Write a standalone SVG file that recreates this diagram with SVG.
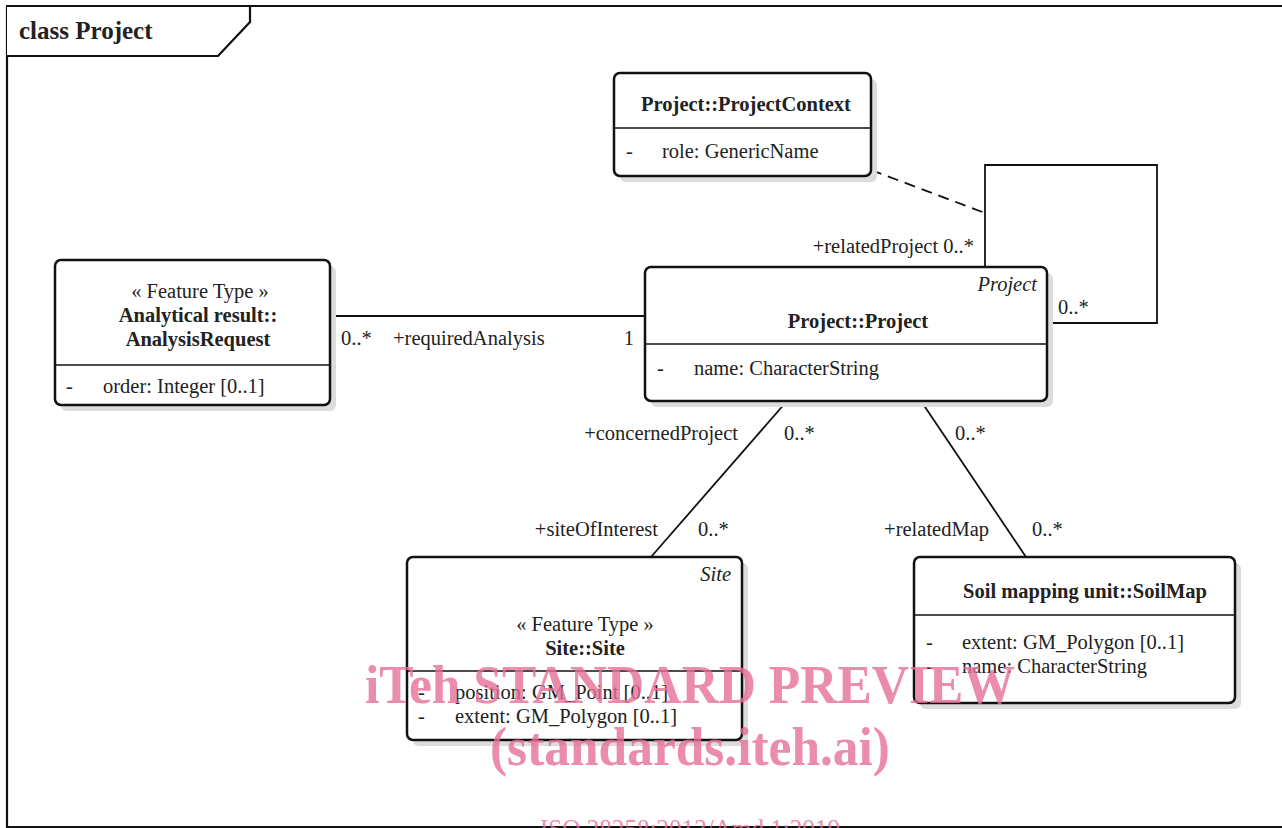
<svg xmlns="http://www.w3.org/2000/svg" width="1282" height="828" viewBox="0 0 1282 828">
<style>
text{font-family:"Liberation Serif","Times New Roman",serif;font-size:20.5px;fill:#222}
.b{font-weight:bold}
.i{font-style:italic}
.m{text-anchor:middle}
.e{text-anchor:end}
.box{fill:#fff;stroke:#111;stroke-width:2.5}
.sh{fill:#dcdcdc}
.div{stroke:#111;stroke-width:1.5}
.ln{fill:none;stroke:#111;stroke-width:1.8}
.wm{font-family:"Liberation Serif","Times New Roman",serif;font-weight:bold;fill:#e66f95;fill-opacity:0.8}
</style>
<rect width="1282" height="828" fill="#fff"/>
<g id="frame">
<path d="M1290,6 H7 V827 H1290" fill="none" stroke="#111" stroke-width="2.2"/>
<path d="M7,6 H250 V22 L218,56 H7" fill="#fff" stroke="#111" stroke-width="2.2"/>
<text x="19" y="39" class="b" style="font-size:25px">class Project</text>
</g>
<g id="connectors">
<line class="ln" x1="330" y1="316" x2="645" y2="316"/>
<text x="341" y="345">0..*</text>
<text x="393" y="345">+requiredAnalysis</text>
<text x="634" y="345" class="e">1</text>
<polyline class="ln" points="985,267 985,165 1157,165 1157,323 1047,323"/>
<text x="974" y="253" class="e">+relatedProject 0..*</text>
<text x="1058" y="314">0..*</text>
<line class="ln" x1="871" y1="170" x2="985" y2="213" stroke-dasharray="11,7"/>
<line class="ln" x1="787" y1="401" x2="651" y2="557"/>
<text x="738" y="440" class="e">+concernedProject</text>
<text x="784" y="440">0..*</text>
<text x="658" y="536" class="e">+siteOfInterest</text>
<text x="698" y="536">0..*</text>
<line class="ln" x1="921" y1="401" x2="1026" y2="557"/>
<text x="955" y="440">0..*</text>
<text x="989" y="536" class="e">+relatedMap</text>
<text x="1032" y="536">0..*</text>
</g>
<g id="ProjectContext">
<rect class="sh" x="620" y="79" width="257" height="103" rx="6"/>
<rect class="box" x="614" y="73" width="257" height="103" rx="6"/>
<text x="746" y="111" class="b m">Project::ProjectContext</text>
<line class="div" x1="614" y1="128" x2="871" y2="128"/>
<text x="626" y="158">-</text>
<text x="662" y="158">role: GenericName</text>
</g>
<g id="AnalysisRequest">
<rect class="sh" x="61" y="266" width="275" height="145" rx="6"/>
<rect class="box" x="55" y="260" width="275" height="145" rx="6"/>
<text x="200" y="298" class="m">« Feature Type »</text>
<text x="198" y="322" class="b m">Analytical result::</text>
<text x="198" y="346" class="b m">AnalysisRequest</text>
<line class="div" x1="55" y1="365" x2="330" y2="365"/>
<text x="66" y="393">-</text>
<text x="103" y="393">order: Integer [0..1]</text>
</g>
<g id="Project">
<rect class="sh" x="651" y="273" width="402" height="134" rx="6"/>
<rect class="box" x="645" y="267" width="402" height="134" rx="6"/>
<text x="1037" y="291" class="i e">Project</text>
<text x="858" y="328" class="b m">Project::Project</text>
<line class="div" x1="645" y1="344" x2="1047" y2="344"/>
<text x="657" y="375">-</text>
<text x="694" y="375">name: CharacterString</text>
</g>
<g id="Site">
<rect class="sh" x="413" y="563" width="335" height="183" rx="6"/>
<rect class="box" x="407" y="557" width="335" height="183" rx="6"/>
<text x="731" y="581" class="i e">Site</text>
<text x="585" y="631" class="m">« Feature Type »</text>
<text x="585" y="655" class="b m">Site::Site</text>
<line class="div" x1="407" y1="671" x2="742" y2="671"/>
<text x="418" y="699">-</text>
<text x="455" y="699">position: GM_Point [0..1]</text>
<text x="418" y="723">-</text>
<text x="455" y="723">extent: GM_Polygon [0..1]</text>
</g>
<g id="SoilMap">
<rect class="sh" x="920" y="563" width="321" height="146" rx="6"/>
<rect class="box" x="914" y="557" width="321" height="146" rx="6"/>
<text x="1085" y="598" class="b m">Soil mapping unit::SoilMap</text>
<line class="div" x1="914" y1="615" x2="1235" y2="615"/>
<text x="926" y="649">-</text>
<text x="962" y="649">extent: GM_Polygon [0..1]</text>
<text x="926" y="673">-</text>
<text x="962" y="673">name: CharacterString</text>
</g>
<g id="watermark">
<text x="690" y="703" class="wm m" style="font-size:54px" textLength="650" lengthAdjust="spacingAndGlyphs">iTeh STANDARD PREVIEW</text>
<text x="690" y="765" class="wm m" style="font-size:54px" textLength="400" lengthAdjust="spacingAndGlyphs">(standards.iteh.ai)</text>
<text x="690" y="838" class="wm m" style="font-size:28px;font-weight:normal" textLength="300" lengthAdjust="spacingAndGlyphs">ISO 28258:2013/Amd 1:2019</text>
</g>
</svg>
